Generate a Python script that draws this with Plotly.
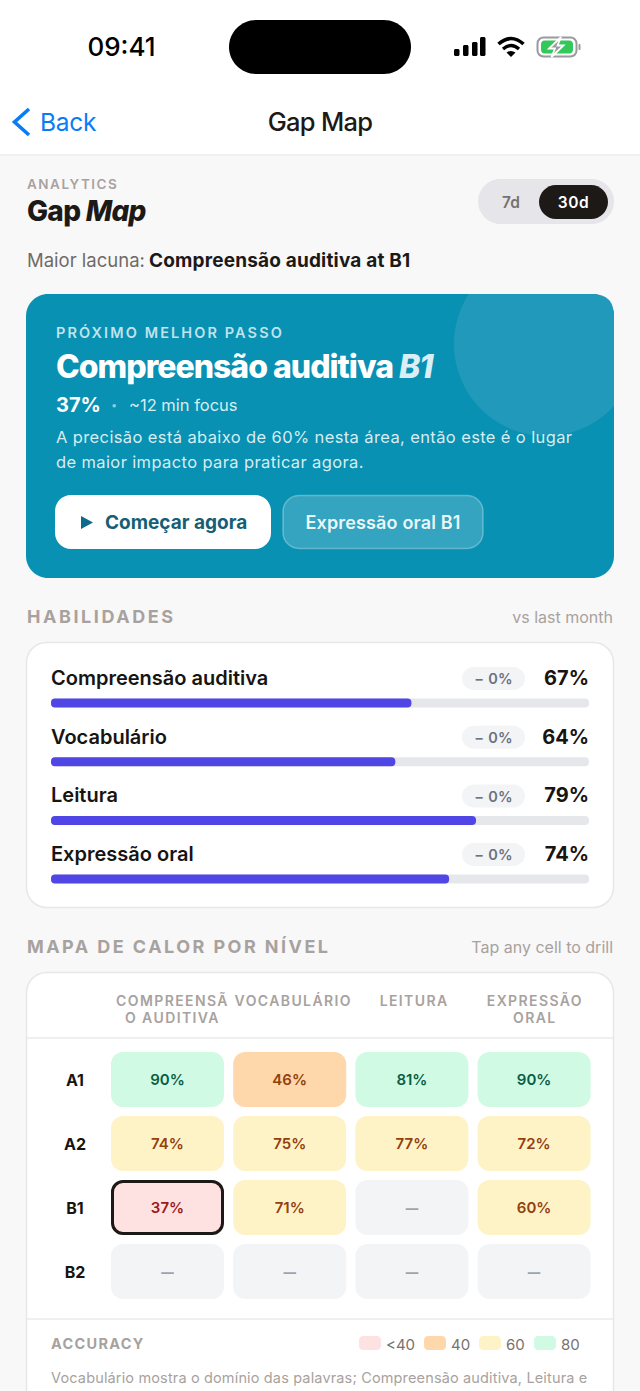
import json
import re
import numpy as np
import plotly.graph_objects as go

# data
skills = ["Compreensão auditiva", "Vocabulário", "Leitura", "Expressão oral"]
skill_values = [67, 64, 79, 74]
skill_deltas = ["− 0%", "− 0%", "− 0%", "− 0%"]

levels = ["A1", "A2", "B1", "B2"]
heat_columns = ["COMPREENSÃ<br>O AUDITIVA", "VOCABULÁRIO", "LEITURA", "EXPRESSÃO<br>ORAL"]
heat_a1 = [90, 46, 81, 90]
heat_a2 = [74, 75, 77, 72]
heat_b1 = [37, 71, None, 60]
heat_b2 = [None, None, None, None]
heat_rows = [heat_a1, heat_a2, heat_b1, heat_b2]

legend_labels = ["<40", "40", "60", "80"]
legend_floor = [0, 40, 60, 80]
band_fill = ["#FEE2E2", "#FED7AA", "#FEF3C7", "#D1FAE5"]
band_text = ["#991B1B", "#92400E", "#92400E", "#065F46"]
empty_fill = "#F3F4F6"
empty_text = "#9CA3AF"

INK = "#1C1917"
MUTED = "#A8A29E"
FONT = "Inter"
W, H = 640, 1391
TEXT_DROP = 2  # plotly sets "middle" text a bit high

fig = go.Figure()
shapes = []
spacing = {}


def rrect(x0, y0, x1, y1, r):
    k = r * 0.45
    return (f"M{x0 + r},{y0} L{x1 - r},{y0} C{x1 - k},{y0} {x1},{y0 + k} {x1},{y0 + r} "
            f"L{x1},{y1 - r} C{x1},{y1 - k} {x1 - k},{y1} {x1 - r},{y1} "
            f"L{x0 + r},{y1} C{x0 + k},{y1} {x0},{y1 - k} {x0},{y1 - r} "
            f"L{x0},{y0 + r} C{x0},{y0 + k} {x0 + k},{y0} {x0 + r},{y0} Z")


def box(x0, y0, x1, y1, r, fill, line=None, lw=0):
    shapes.append(dict(type="path", path=rrect(x0, y0, x1, y1, r), xref="x", yref="y",
                       fillcolor=fill, layer="below",
                       line=dict(color=line or "rgba(0,0,0,0)", width=lw)))


def path(d, fill="rgba(0,0,0,0)", line=None, lw=0):
    shapes.append(dict(type="path", path=d, xref="x", yref="y", fillcolor=fill, layer="below",
                       line=dict(color=line or "rgba(0,0,0,0)", width=lw)))


def txt(x, y, s, size, color, weight=400, anchor="left", sp=0):
    pos = {"left": "middle right", "right": "middle left", "center": "middle center"}[anchor]
    if sp:
        spacing[re.sub("<.*?>", "", s)] = sp
    fig.add_trace(go.Scatter(x=[x], y=[y + TEXT_DROP], mode="text", text=[s], textposition=pos,
                             textfont=dict(family=FONT, size=size, color=color, weight=weight),
                             hoverinfo="skip", cliponaxis=False, xaxis="x", yaxis="y"))


txt(121.5, 47, "09:41", 26, "#000000", 500, "center")

# page chrome
box(-5, -5, 645, 154.5, 0.1, "#FFFFFF")
shapes.append(dict(type="line", x0=0, x1=W, y0=155, y1=155, xref="x", yref="y", layer="below",
                   line=dict(color="#E7E7E9", width=1)))
box(229, 20, 411, 74, 27, "#000000")
for x0, top in zip([454, 463, 472, 480], [49, 45, 42, 37]):
    box(x0, top, x0 + 5.5, 56, 1.5, "#000000")
path("M498.5,44 Q511,33 523.5,44", line="#000000", lw=3.6)
path("M503,49 Q511,42 519,49", line="#000000", lw=3.4)
path("M506.5,52.5 Q511,49.5 515.5,52.5 L511,57 Z", fill="#000000")
box(537.5, 37.5, 576.5, 56.5, 6, "rgba(0,0,0,0)", "#9A9A9E", 2)
box(541, 40.5, 573, 53.5, 3.5, "#34C759")
box(578.5, 44, 580.5, 50, 1, "#9A9A9E")
path("M561,37 L549,48.5 L555,48.5 L551.5,57 L563.5,45.5 L557.5,45.5 Z", fill="#9A9A9E", line="#FFFFFF", lw=1.8)

path("M29,109 L14.5,122 L29,135", line="#0A7CF5", lw=3.6)
txt(40, 122.5, "Back", 24.5, "#0A7CF5", sp=-0.3)
txt(320, 122.5, "Gap Map", 25.5, INK, 500, "center")

# header row
txt(27, 184, "ANALYTICS", 13.5, MUTED, 600, sp=1.5)
txt(27, 212, "Gap <i>Map</i>", 28, INK, 800, sp=-0.7)
box(478, 179, 614, 224, 22.5, "#E5E5EA")
box(539, 185, 608, 219, 17, INK)
txt(511, 202, "7d", 15.5, "#78716C", 600, "center")
txt(573.5, 202, "30d", 15.5, "#FFFFFF", 600, "center", sp=0.6)
txt(27, 260.5, "Maior lacuna:", 18.5, "#6F6A66")
txt(149, 260.5, "Compreensão auditiva at B1", 19, INK, 700, sp=0.18)

# hero card, the pale disc is cut by the card edges
box(26, 294, 614, 578, 22, "#0891B2")
disc_x, disc_y, disc_r = 546, 344, 92
a0 = np.arctan2(np.sqrt(disc_r ** 2 - (614 - disc_x) ** 2), 614 - disc_x)
a1 = np.pi + np.arcsin((disc_y - 294) / disc_r)
arc = [(disc_x + disc_r * np.cos(a), disc_y + disc_r * np.sin(a)) for a in np.linspace(a0, a1, 60)]
d = "M592,294 Q614,294 614,316 " + " ".join(f"L{x:.1f},{y:.1f}" for x, y in arc) + " Z"
path(d, fill="#2099BA")
txt(56, 332, "PRÓXIMO MELHOR PASSO", 14.5, "rgba(255,255,255,0.75)", 600, sp=2.1)
txt(56, 368, 'Compreensão auditiva <span style="color:#D9EEF5"><i>B1</i></span>', 32, "#FFFFFF", 800, sp=-1)
txt(56, 404.5, "37%", 20, "#FFFFFF", 700)
txt(114, 404, "•", 11, "rgba(255,255,255,0.55)", 400, "center")
txt(129, 404.5, "~12 min focus", 16.5, "rgba(255,255,255,0.85)")
txt(56, 437, "A precisão está abaixo de 60% nesta área, então este é o lugar", 16.5, "rgba(255,255,255,0.85)", sp=0.38)
txt(56, 462, "de maior impacto para praticar agora.", 16.5, "rgba(255,255,255,0.85)", sp=0.38)
box(55, 495, 271, 549, 16, "#FFFFFF")
path("M81,516 L93,522.5 L81,529 Z", fill="#0E6A8A")
txt(105, 522.5, "Começar agora", 19, "#155E75", 700)
box(283, 495.5, 483, 548.5, 16, "rgba(255,255,255,0.18)", "rgba(255,255,255,0.3)", 1.5)
txt(383, 522.5, "Expressão oral B1", 18, "rgba(255,255,255,0.92)", 600, "center", sp=0.15)

# skills card
txt(27, 616, "HABILIDADES", 18, MUTED, 700, sp=2.55)
txt(613, 617, "vs last month", 16, MUTED, 400, "right")
box(26.5, 642.5, 613.5, 907.5, 20, "#FFFFFF", "#E5E7EB", 1.5)

row_pitch = 58.7
first_bar_y = 703
for i, (skill, value, delta) in enumerate(zip(skills, skill_values, skill_deltas)):
    y = first_bar_y + i * row_pitch
    txt(51, y - 25, skill, 20, "#171412", 600)
    box(462, y - 36, 525, y - 13, 11.5, empty_fill)
    txt(493.5, y - 24.5, delta, 14.5, "#6B7280", 600, "center", sp=0.2)
    txt(589, y - 25, f"{value}%", 20, "#171412", 700, "right")

bar_w = 9 / row_pitch
fig.add_trace(go.Bar(x=[100] * len(skills), base=[0] * len(skills), y=skills, orientation="h", width=bar_w,
                     marker=dict(color="#E5E7EB", cornerradius=4.5, line=dict(width=0)),
                     hoverinfo="skip", xaxis="x2", yaxis="y2"))
fig.add_trace(go.Bar(x=skill_values, base=[0] * len(skills), y=skills, orientation="h", width=bar_w,
                     marker=dict(color="#4F46E5", cornerradius=4.5, line=dict(width=0)),
                     hoverinfo="skip", xaxis="x2", yaxis="y2"))

# heat map card
txt(27, 946, "MAPA DE CALOR POR NÍVEL", 18, MUTED, 700, sp=2.45)
txt(613, 947, "Tap any cell to drill", 16, MUTED, 400, "right")
box(26.5, 972.5, 613.5, 1420, 20, "#FFFFFF", "#E5E7EB", 1.5)
for y in [1038, 1319]:
    shapes.append(dict(type="line", x0=27, x1=613, y0=y, y1=y, xref="x", yref="y", layer="below",
                       line=dict(color="#E9EAEC", width=1.5)))

col_pitch = 122.2
cell_left = 167.5
for j, label in enumerate(heat_columns):
    for k, part in enumerate(label.split("<br>")):
        txt(172.5 + j * 120.8, 1000 + k * 17.5, part, 14, MUTED, 600, "center", sp=1.4)


def band_of(v):
    return sum(v >= f for f in legend_floor) - 1


cell_x, cell_row, cell_fill, cell_label, cell_color = [], [], [], [], []
for r, row in enumerate(heat_rows):
    txt(75, 1080 + r * 64, levels[r], 16, "#171412", 700, "center")
    for c, v in enumerate(row):
        cell_x.append(c)
        cell_row.append(r)
        cell_fill.append(empty_fill if v is None else band_fill[band_of(v)])
        cell_label.append("—" if v is None else f"{v}%")
        cell_color.append(empty_text if v is None else band_text[band_of(v)])

cell_h = 55 / 64
cell_w = 113 / col_pitch
fig.add_trace(go.Bar(x=cell_x, y=[cell_h] * len(cell_x), base=[r - cell_h / 2 for r in cell_row], width=cell_w,
                     marker=dict(color=cell_fill, cornerradius=12, line=dict(width=0)),
                     hoverinfo="skip", xaxis="x3", yaxis="y3"))

# lowest cell gets the dark outline
low = min((v, r, c) for r, row in enumerate(heat_rows) for c, v in enumerate(row) if v is not None)
fig.add_trace(go.Bar(x=[low[2]], y=[(55 - 3) / 64], base=[low[1] - (55 - 3) / 128], width=(113 - 3) / col_pitch,
                     marker=dict(color=band_fill[band_of(low[0])], cornerradius=10.5, line=dict(color=INK, width=3)),
                     hoverinfo="skip", xaxis="x3", yaxis="y3"))
fig.add_trace(go.Scatter(x=cell_x, y=[r + TEXT_DROP / 64 for r in cell_row], mode="text", text=cell_label,
                         textposition="middle center",
                         textfont=dict(family=FONT, color=cell_color,
                                       size=[12.5 if s == "—" else 15 for s in cell_label],
                                       weight=[800 if s == "—" else 600 for s in cell_label]),
                         hoverinfo="skip", cliponaxis=False, xaxis="x3", yaxis="y3"))

# accuracy legend
txt(51, 1343, "ACCURACY", 14.5, MUTED, 700, sp=1.3)
for lab, fill, x0 in zip(legend_labels, band_fill, [359, 424, 479, 534]):
    box(x0, 1336, x0 + 22, 1350, 4, fill)
    txt(x0 + 27, 1344, lab, 15, "#78716C")
txt(51, 1377, "Vocabulário mostra o domínio das palavras; Compreensão auditiva, Leitura e", 14.5, MUTED, sp=0.15)

hidden = dict(visible=False, fixedrange=True)
fig.update_layout(
    width=W, height=H, margin=dict(l=0, r=0, t=0, b=0), autosize=False,
    paper_bgcolor="#F8F8F9", plot_bgcolor="rgba(0,0,0,0)",
    showlegend=False, hovermode=False, barmode="overlay", shapes=shapes,
    font=dict(family=FONT),
    xaxis=dict(range=[0, W], domain=[0, 1], **hidden),
    yaxis=dict(range=[H, 0], domain=[0, 1], **hidden),
    xaxis2=dict(range=[0, 100], domain=[51 / W, 589 / W], anchor="y2", **hidden),
    yaxis2=dict(type="category", categoryorder="array", categoryarray=skills,
                range=[len(skills) - 0.5, -0.5], anchor="x2",
                domain=[1 - (first_bar_y + 3.5 * row_pitch) / H, 1 - (first_bar_y - 0.5 * row_pitch) / H], **hidden),
    xaxis3=dict(range=[-0.5, 3.5], domain=[(cell_left - col_pitch / 2) / W, (cell_left + 3.5 * col_pitch) / W],
                anchor="y3", **hidden),
    yaxis3=dict(range=[3.5, -0.5], domain=[1 - 1303.5 / H, 1 - 1047.5 / H], anchor="x3", **hidden),
)

post = """
document.body.style.margin = '0';
document.documentElement.style.overflow = 'hidden';
var sp = %s;
document.querySelectorAll('.textpoint text').forEach(function (t) {
  var s = sp[t.textContent];
  if (s) { t.style.letterSpacing = s + 'px'; }
});
""" % json.dumps(spacing, ensure_ascii=False)

fig.write_html("out.html", post_script=post, config={"displayModeBar": False})
